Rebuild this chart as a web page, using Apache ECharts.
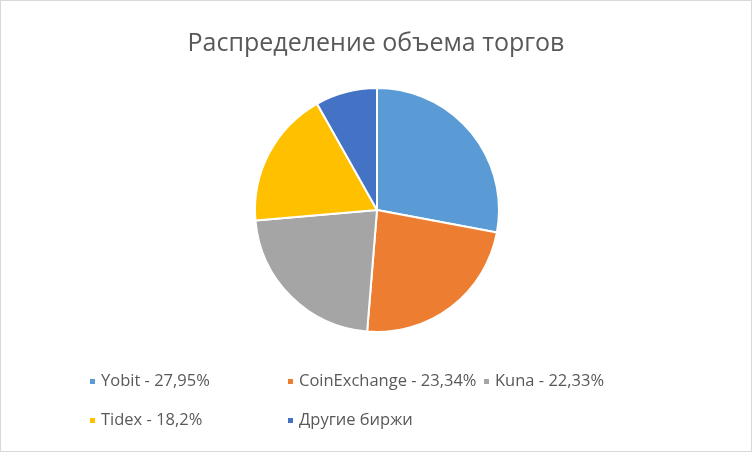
<!DOCTYPE html>
<html>
<head>
<meta charset="utf-8">
<script src="https://cdn.jsdelivr.net/npm/echarts@6/dist/echarts.min.js"></script>
<style>
  html, body { margin: 0; padding: 0; background: #fff; }
  #chart { width: 752px; height: 452px; box-sizing: border-box; border: 1px solid #d9d9d9; }
</style>
</head>
<body>
<div id="chart"></div>
<script>
// данные диаграммы
var titleText = 'Распределение объема торгов';
var names = ['Yobit - 27,95%', 'CoinExchange - 23,34%', 'Kuna - 22,33%', 'Tidex - 18,2%', 'Другие биржи'];
var values = [27.95, 23.34, 22.33, 18.2, 8.18];
var colors = ['#5b9bd5', '#ed7d31', '#a5a5a5', '#ffc000', '#4472c4'];

// позиции легенды (как в Excel - две строки, колонки)
var legendPos = [[87, 372], [285, 372], [481, 372], [87, 411], [285, 411]];

var chart = echarts.init(document.getElementById('chart'));

var legends = names.map(function (n, i) {
    return {
        data: [n],
        left: legendPos[i][0],
        top: legendPos[i][1],
        padding: 0,
        icon: 'rect',
        itemWidth: 7,
        itemHeight: 7,
        itemGap: 0,
        selectedMode: false,
        textStyle: { color: '#595959', fontSize: 16.5, fontFamily: 'Open Sans', padding: [0, 0, 0, 0] }
    };
});

chart.setOption({
    animation: false,
    color: colors,
    title: {
        text: titleText,
        left: 'center',
        top: 25,
        textStyle: { color: '#595959', fontSize: 25, fontWeight: 'normal', fontFamily: 'Open Sans' }
    },
    legend: legends,
    series: [{
        type: 'pie',
        center: [376, 209],
        radius: 122,
        startAngle: 90,
        clockwise: true,
        label: { show: false },
        labelLine: { show: false },
        itemStyle: { borderColor: '#fff', borderWidth: 2 },
        emphasis: { disabled: true },
        data: names.map(function (n, i) { return { name: n, value: values[i] }; })
    }]
});
</script>
</body>
</html>
